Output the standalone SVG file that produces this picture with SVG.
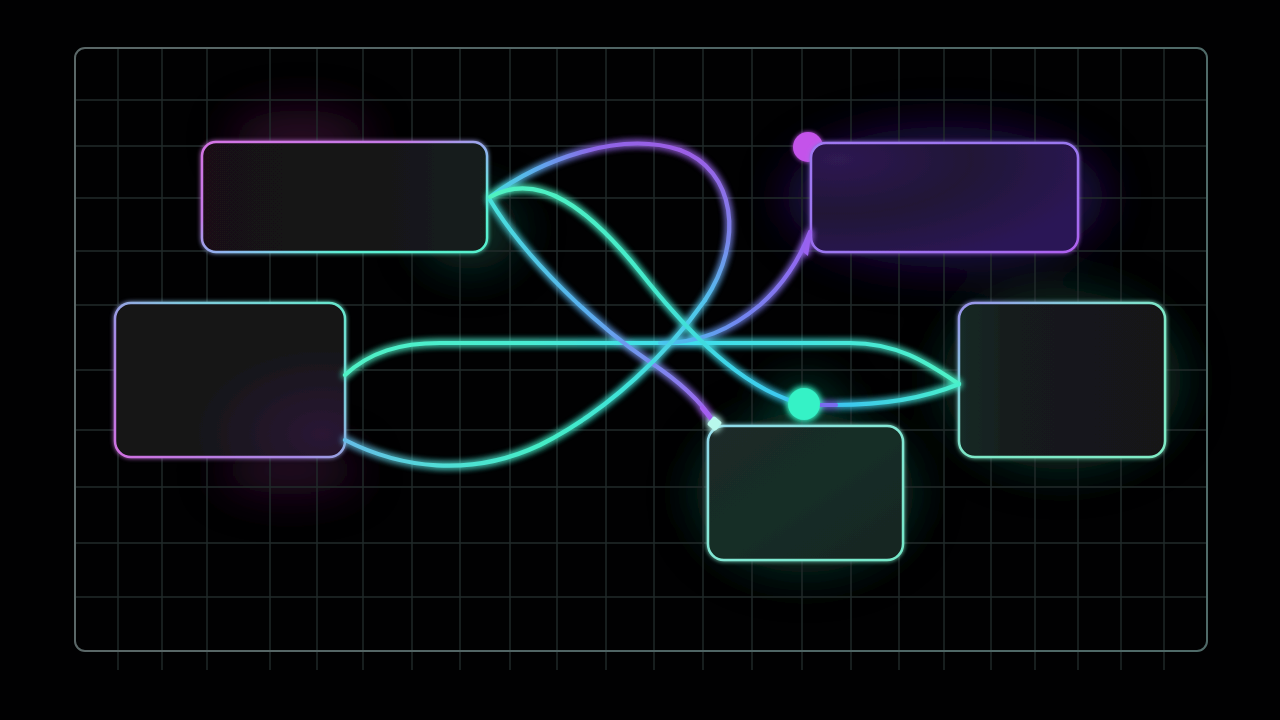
<svg xmlns="http://www.w3.org/2000/svg" width="1280" height="720" viewBox="0 0 1280 720">
<defs>
<style>
.grid line{stroke:#222b2b;stroke-width:1.4}
.conn{fill:none;stroke-width:4.2;stroke-linecap:round}
.node{stroke-width:2.5}
</style>
<filter id="glow" x="-20%" y="-20%" width="140%" height="140%">
<feGaussianBlur in="SourceGraphic" stdDeviation="3.5" result="b"/>
<feMerge><feMergeNode in="b"/><feMergeNode in="b"/><feMergeNode in="SourceGraphic"/></feMerge>
</filter>
<filter id="soft" x="-50%" y="-50%" width="200%" height="200%">
<feGaussianBlur stdDeviation="22"/>
</filter>
<filter id="nglow" x="-20%" y="-30%" width="140%" height="160%">
<feGaussianBlur in="SourceGraphic" stdDeviation="2" result="b"/>
<feMerge><feMergeNode in="b"/><feMergeNode in="SourceGraphic"/></feMerge>
</filter>
<linearGradient id="frameG" x1="75" y1="0" x2="1207" y2="0" gradientUnits="userSpaceOnUse">
<stop offset="0" stop-color="#5a6767"/><stop offset="0.5" stop-color="#4f6464"/><stop offset="1" stop-color="#4f6a68"/>
</linearGradient>
<linearGradient id="s1" x1="0" y1="0" x2="1" y2="1">
<stop offset="0" stop-color="#d474e4"/><stop offset="0.35" stop-color="#c47ae6"/><stop offset="0.55" stop-color="#8cb8ee"/><stop offset="0.75" stop-color="#5ef0d4"/><stop offset="1" stop-color="#56f0cc"/>
</linearGradient>
<linearGradient id="f1" x1="0" y1="0" x2="1" y2="0">
<stop offset="0" stop-color="#1a1119"/><stop offset="0.6" stop-color="#141318"/><stop offset="1" stop-color="#13201e"/>
</linearGradient>
<linearGradient id="s2" x1="1" y1="0" x2="0" y2="1">
<stop offset="0" stop-color="#66e8cc"/><stop offset="0.35" stop-color="#80c8dc"/><stop offset="0.6" stop-color="#a68ae6"/><stop offset="1" stop-color="#d070e0"/>
</linearGradient>
<radialGradient id="f2" cx="0.9" cy="0.85" r="0.6">
<stop offset="0" stop-color="#2a1634"/><stop offset="1" stop-color="#141216"/>
</radialGradient>
<linearGradient id="s3" x1="0" y1="0" x2="1" y2="1">
<stop offset="0" stop-color="#a078f2"/><stop offset="0.5" stop-color="#9a78f0"/><stop offset="0.85" stop-color="#a46cf0"/><stop offset="1" stop-color="#b060f0"/>
</linearGradient>
<radialGradient id="f3" cx="0.1" cy="0.15" r="1">
<stop offset="0" stop-color="#2e1a52"/><stop offset="0.5" stop-color="#201236"/><stop offset="1" stop-color="#2c1656"/>
</radialGradient>
<linearGradient id="s4" x1="0" y1="0" x2="1" y2="1">
<stop offset="0" stop-color="#9a90ec"/><stop offset="0.25" stop-color="#86c8dc"/><stop offset="0.5" stop-color="#7ee8c8"/><stop offset="1" stop-color="#80ecc6"/>
</linearGradient>
<linearGradient id="f4" x1="0" y1="0" x2="1" y2="0">
<stop offset="0" stop-color="#152a26"/><stop offset="0.3" stop-color="#151a1b"/><stop offset="1" stop-color="#161619"/>
</linearGradient>
<linearGradient id="s5" x1="0" y1="0" x2="1" y2="1">
<stop offset="0" stop-color="#90d8ec"/><stop offset="0.4" stop-color="#86e8d8"/><stop offset="1" stop-color="#74e8c8"/>
</linearGradient>
<linearGradient id="f5" x1="0" y1="0" x2="1" y2="1">
<stop offset="0" stop-color="#1c2a29"/><stop offset="0.5" stop-color="#172e26"/><stop offset="1" stop-color="#192423"/>
</linearGradient>
<linearGradient id="gA" x1="345" y1="0" x2="960" y2="0" gradientUnits="userSpaceOnUse">
<stop offset="0" stop-color="#50f2c6"/><stop offset="0.3" stop-color="#48ecd2"/><stop offset="0.55" stop-color="#40dcee"/><stop offset="0.75" stop-color="#44e4e0"/><stop offset="1" stop-color="#4ef2c6"/>
</linearGradient>
<linearGradient id="gB1" x1="345" y1="0" x2="705" y2="0" gradientUnits="userSpaceOnUse">
<stop offset="0" stop-color="#66bde8"/><stop offset="0.25" stop-color="#52dcd8"/><stop offset="0.55" stop-color="#44eec6"/><stop offset="0.8" stop-color="#40e2dc"/><stop offset="1" stop-color="#52c4ee"/>
</linearGradient>
<linearGradient id="gB2" x1="0" y1="300" x2="0" y2="150" gradientUnits="userSpaceOnUse">
<stop offset="0" stop-color="#52c0ee"/><stop offset="0.4" stop-color="#7a86ec"/><stop offset="1" stop-color="#9c5ee6"/>
</linearGradient>
<linearGradient id="gB3" x1="680" y1="0" x2="490" y2="0" gradientUnits="userSpaceOnUse">
<stop offset="0" stop-color="#9c5ee6"/><stop offset="0.45" stop-color="#8e66e8"/><stop offset="0.75" stop-color="#5eaaee"/><stop offset="1" stop-color="#46dcdc"/>
</linearGradient>
<linearGradient id="gQ" x1="490" y1="197" x2="795" y2="402" gradientUnits="userSpaceOnUse">
<stop offset="0" stop-color="#50f2c0"/><stop offset="0.5" stop-color="#44eacc"/><stop offset="0.8" stop-color="#3ed4e8"/><stop offset="1" stop-color="#3ec6f2"/>
</linearGradient>
<linearGradient id="gQ2" x1="835" y1="0" x2="959" y2="0" gradientUnits="userSpaceOnUse">
<stop offset="0" stop-color="#3cc2f2"/><stop offset="1" stop-color="#48f0cc"/>
</linearGradient>
<linearGradient id="gR" x1="490" y1="200" x2="713" y2="422" gradientUnits="userSpaceOnUse">
<stop offset="0" stop-color="#48e2dc"/><stop offset="0.45" stop-color="#58b0ee"/><stop offset="0.75" stop-color="#7c8aee"/><stop offset="1" stop-color="#a45ef0"/>
</linearGradient>
<linearGradient id="gS" x1="660" y1="343" x2="810" y2="232" gradientUnits="userSpaceOnUse">
<stop offset="0" stop-color="#48c8ee"/><stop offset="0.4" stop-color="#7088f0"/><stop offset="1" stop-color="#9a60f0"/>
</linearGradient>
</defs>

<rect x="0" y="0" width="1280" height="720" fill="#010102"/>

<g id="ambient" filter="url(#soft)">
<ellipse cx="300" cy="140" rx="70" ry="30" fill="#5a1850" opacity="0.45"/>
<ellipse cx="470" cy="230" rx="50" ry="40" fill="#0f4a3a" opacity="0.6"/>
<ellipse cx="290" cy="470" rx="70" ry="25" fill="#4a1448" opacity="0.5"/>
<ellipse cx="945" cy="197" rx="160" ry="70" fill="#2a1260" opacity="0.7"/>
<ellipse cx="1062" cy="380" rx="120" ry="90" fill="#0a3a2c" opacity="0.7"/>
<ellipse cx="805" cy="493" rx="110" ry="80" fill="#0a3a2c" opacity="0.75"/>
<ellipse cx="805" cy="405" rx="30" ry="25" fill="#0a5a44" opacity="0.6"/>
</g>

<g id="grid" class="grid">
<line x1="118" y1="49" x2="118" y2="670"/><line x1="162" y1="49" x2="162" y2="670"/><line x1="207" y1="49" x2="207" y2="670"/>
<line x1="270" y1="49" x2="270" y2="670"/><line x1="317" y1="49" x2="317" y2="670"/><line x1="363" y1="49" x2="363" y2="670"/>
<line x1="412" y1="49" x2="412" y2="670"/><line x1="460" y1="49" x2="460" y2="670"/><line x1="510" y1="49" x2="510" y2="670"/>
<line x1="557" y1="49" x2="557" y2="670"/><line x1="606" y1="49" x2="606" y2="670"/><line x1="654" y1="49" x2="654" y2="670"/>
<line x1="703" y1="49" x2="703" y2="670"/><line x1="752" y1="49" x2="752" y2="670"/><line x1="802" y1="49" x2="802" y2="670"/>
<line x1="851" y1="49" x2="851" y2="670"/><line x1="899" y1="49" x2="899" y2="670"/><line x1="944" y1="49" x2="944" y2="670"/>
<line x1="991" y1="49" x2="991" y2="670"/><line x1="1035" y1="49" x2="1035" y2="670"/><line x1="1078" y1="49" x2="1078" y2="670"/>
<line x1="1121" y1="49" x2="1121" y2="670"/><line x1="1164" y1="49" x2="1164" y2="670"/>
<line x1="75" y1="100" x2="1207" y2="100"/><line x1="75" y1="146" x2="1207" y2="146"/><line x1="75" y1="198" x2="1207" y2="198"/>
<line x1="75" y1="251" x2="1207" y2="251"/><line x1="75" y1="305" x2="1207" y2="305"/><line x1="75" y1="370" x2="1207" y2="370"/>
<line x1="75" y1="430" x2="1207" y2="430"/><line x1="75" y1="487" x2="1207" y2="487"/><line x1="75" y1="543" x2="1207" y2="543"/>
<line x1="75" y1="597" x2="1207" y2="597"/>
</g>

<g id="frame">
<rect x="75" y="48" width="1132" height="603" rx="10" fill="none" stroke="url(#frameG)" stroke-width="2"/>
</g>

<g id="markers-under">
<circle cx="808" cy="147" r="15" fill="#c452ea" filter="url(#nglow)"/>
</g>

<g id="node-topleft">
<rect class="node" x="202" y="142" width="285" height="110" rx="14" fill="url(#f1)" stroke="url(#s1)" filter="url(#nglow)"/>
</g>
<g id="node-left">
<rect class="node" x="115" y="303" width="230" height="154" rx="16" fill="url(#f2)" stroke="url(#s2)" filter="url(#nglow)"/>
</g>
<g id="node-topright">
<rect class="node" x="811" y="143" width="267" height="109" rx="15" fill="url(#f3)" stroke="url(#s3)" filter="url(#nglow)"/>
</g>
<g id="node-right">
<rect class="node" x="959" y="303" width="206" height="154" rx="16" fill="url(#f4)" stroke="url(#s4)" filter="url(#nglow)"/>
</g>
<g id="node-bottom">
<rect class="node" x="708" y="426" width="195" height="134" rx="16" fill="url(#f5)" stroke="url(#s5)" filter="url(#nglow)"/>
</g>

<g id="connectors" filter="url(#glow)">
<path class="conn" stroke="url(#gA)" d="M345,375 C370,352 400,343 440,343 L850,343 C900,343 930,365 959,384"/>
<path class="conn" stroke="url(#gS)" d="M660,343 C700,343 730,330 760,305 C785,283 800,258 810,232"/>
<polygon points="803,252 812,229 808,256" fill="#9a62f0"/>
<path class="conn" stroke="url(#gR)" d="M490,200 C525,258 595,325 650,362 C680,382 700,400 713,421"/>
<path class="conn" stroke="#a45ef0" stroke-width="5.5" d="M702,408 L711,419"/>
<path class="conn" stroke="url(#gB1)" d="M345,440 C400,468 470,478 540,445 C610,410 670,350 705,300"/>
<path class="conn" stroke="url(#gB2)" d="M705,300 C745,240 735,170 680,150"/>
<path class="conn" stroke="url(#gB3)" d="M680,150 C620,130 540,160 490,197"/>
<path class="conn" stroke="url(#gQ)" d="M490,197 C540,170 590,210 640,272 C690,335 740,385 795,402"/>
<path class="conn" stroke="url(#gQ2)" d="M835,405 C880,405 920,400 959,384"/>
<path class="conn" stroke="#7a6cf0" stroke-width="6" stroke-linecap="butt" d="M818,405 L836,405"/>
<circle cx="804" cy="404" r="16" fill="#34f2c6"/>
<rect x="709" y="418" width="11" height="11" rx="2" fill="#b8f8ec" transform="rotate(40 714.5 423.5)"/>
</g>
</svg>
